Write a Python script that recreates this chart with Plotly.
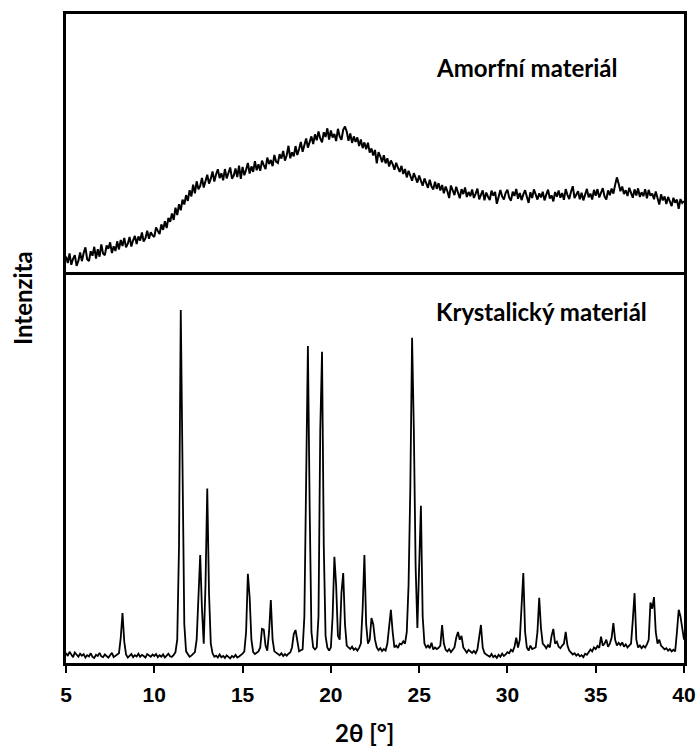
import numpy as np
import plotly.graph_objects as go

# 2-theta scan grid (degrees), step 0.1
two_theta = np.round(np.arange(5.0, 40.0001, 0.1), 1)

# Amorphous material intensity (arbitrary units)
amorphous = [
    7.1, 4.6, 8.3, 3.9, 6.2, 7.6, 3.5, 5.4, 8.6, 5.3,
    8.4, 10.6, 6.0, 5.3, 9.1, 7.4, 10.8, 6.3, 9.9, 7.0,
    11.7, 8.2, 7.6, 11.3, 10.1, 12.5, 8.4, 11.0, 9.2, 12.9,
    9.8, 13.4, 11.1, 14.2, 10.6, 12.0, 14.6, 10.9, 13.3, 15.0,
    11.9, 14.8, 13.2, 16.3, 12.8, 14.1, 17.0, 13.9, 16.4, 15.2,
    14.6, 18.2, 16.9, 15.7, 19.4, 17.3, 20.6, 18.0, 21.9, 20.4,
    23.6, 21.1, 25.8, 23.0, 27.1, 24.8, 28.9, 27.0, 30.6, 28.4,
    32.5, 30.1, 34.6, 31.3, 35.9, 32.8, 34.1, 37.2, 33.5, 36.0,
    38.4, 35.0, 36.9, 39.7, 35.8, 38.6, 40.5, 37.1, 39.0, 36.3,
    40.6, 37.0, 39.4, 41.2, 36.9, 38.1, 40.8, 37.5, 41.9, 36.8,
    41.4, 38.2, 40.3, 42.9, 38.9, 41.6, 39.5, 43.6, 40.1, 42.4,
    39.9, 43.8, 42.1, 40.6, 45.0, 42.5, 44.1, 41.7, 46.0, 43.4,
    42.9, 46.3, 44.6, 47.5, 43.8, 45.9, 49.5, 44.7, 47.0, 45.5,
    49.4, 46.0, 48.3, 51.0, 47.2, 49.9, 52.3, 48.8, 50.6, 53.1,
    50.2, 53.9, 51.6, 55.0, 52.3, 50.8, 54.7, 52.9, 56.2, 51.9,
    55.4, 52.7, 54.0, 51.3, 56.0, 53.1, 51.8, 55.6, 56.9, 54.9,
    51.4, 54.2, 50.6, 53.1, 51.0, 52.7, 49.4, 51.9, 48.6, 50.8,
    48.2, 50.7, 46.9, 48.5, 45.8, 47.9, 42.8, 47.1, 45.5, 43.2,
    45.9, 42.8, 44.7, 41.6, 43.9, 42.5, 40.3, 43.0, 41.1, 39.5,
    41.8, 38.7, 40.6, 37.4, 39.9, 38.3, 36.1, 39.0, 36.9, 35.4,
    38.1, 35.6, 34.2, 37.0, 35.1, 33.4, 36.5, 34.0, 32.8, 35.7,
    33.0, 35.2, 32.4, 34.5, 31.3, 33.9, 32.1, 29.5, 34.3, 32.0,
    30.6, 33.8, 31.5, 29.4, 32.9, 31.0, 33.5, 29.9, 31.8, 30.2,
    32.8, 29.5, 31.2, 33.1, 29.0, 30.7, 32.4, 28.6, 31.6, 30.0,
    28.7, 32.3, 30.4, 31.8, 27.3, 29.9, 32.6, 30.1, 28.9, 31.5,
    32.7, 29.6, 28.5, 31.9, 30.3, 33.0, 29.2, 31.4, 28.7, 30.9,
    32.5, 30.0, 27.6, 31.7, 29.5, 32.8, 30.6, 28.9, 31.3, 29.7,
    31.9, 28.6, 30.8, 32.7, 29.3, 30.5, 28.2, 31.8, 30.0, 32.4,
    29.6, 31.4, 28.8, 32.9, 30.7, 29.1, 31.9, 34.0, 29.5, 30.8,
    32.1, 29.0, 31.5, 28.6, 30.9, 33.0, 29.8, 31.2, 28.9, 32.6,
    30.4, 32.9, 29.7, 31.8, 33.3, 30.1, 28.9, 32.4, 30.6, 33.1,
    31.2, 34.6, 37.4, 35.0, 32.1, 33.9, 31.0, 32.5, 30.3, 33.4,
    31.0, 29.6, 32.8, 30.5, 33.2, 29.9, 31.7, 30.2, 32.9, 29.4,
    32.6, 30.4, 31.2, 29.0, 32.0, 29.8, 27.0, 30.9, 28.6, 30.1,
    27.2, 29.9, 28.1, 26.4, 29.6, 27.7, 28.9, 25.4, 29.1, 27.6,
    28.3,
]

# Crystalline material intensity (arbitrary units)
crystalline = [
    2.6, 1.8, 2.9, 2.2, 1.5, 2.7, 2.0, 1.6, 2.4, 1.9,
    2.3, 1.4, 2.0, 1.7, 2.5, 1.6, 1.3, 2.1, 1.8, 2.6,
    1.7, 1.5, 2.2, 1.9, 1.4, 2.0, 2.6, 1.5, 1.8, 2.2,
    2.5, 6.5, 12.9, 5.5, 2.2, 1.4, 1.9, 2.3, 1.5, 2.0,
    1.7, 2.4, 1.6, 2.1, 1.8, 1.4, 2.3, 1.9, 1.6, 2.2,
    1.8, 2.3, 1.5, 2.0, 1.6, 2.2, 1.4, 1.9, 2.4, 1.7,
    1.6, 2.1, 2.8, 6.0, 30.0, 91.0, 50.0, 10.0, 3.0, 2.2,
    1.6, 1.9, 2.4, 2.8, 6.0, 18.0, 27.8, 14.0, 5.0, 20.0,
    45.0, 18.0, 5.0, 2.5, 1.6, 1.9, 1.4, 2.2, 1.5, 1.8,
    1.3, 2.0, 1.6, 1.2, 1.8, 1.5, 2.1, 1.4, 1.7, 2.0,
    2.4, 3.0, 8.0, 23.0, 17.0, 6.0, 2.8, 2.3, 2.6, 3.0,
    4.0, 8.8, 8.6, 4.5, 3.2, 8.0, 16.2, 6.0, 3.0, 2.6,
    2.2, 2.0, 2.5, 1.8, 2.3, 1.9, 2.4, 2.7, 4.0, 7.5,
    8.5, 5.0, 3.0, 3.3, 3.5, 12.0, 55.0, 81.7, 40.0, 8.0,
    4.0, 3.5, 4.0, 12.0, 60.0, 80.2, 30.0, 7.0, 4.0, 3.2,
    4.0, 12.0, 27.4, 20.0, 7.0, 6.0, 18.0, 23.2, 10.0, 4.5,
    4.0, 3.6, 4.2, 3.4, 3.8, 3.2, 3.9, 5.0, 14.0, 27.8,
    10.0, 5.0, 6.0, 11.6, 10.0, 6.0, 4.0, 3.3, 3.8, 3.1,
    3.6, 3.2, 5.0, 9.0, 13.7, 8.0, 4.0, 4.5, 3.9, 5.0,
    4.8, 5.6, 5.0, 8.0, 20.0, 45.0, 83.8, 60.0, 25.0, 9.0,
    25.0, 40.5, 12.0, 5.0, 4.0, 4.5, 3.8, 5.2, 3.5, 4.0,
    3.6, 3.9, 4.5, 9.8, 5.0, 3.4, 3.0, 3.6, 2.8, 3.3,
    4.0, 6.5, 8.0, 6.0, 7.0, 4.0, 3.2, 2.7, 3.4, 2.9,
    2.6, 3.1, 2.5, 3.5, 7.0, 9.8, 4.0, 2.6, 2.2, 1.9,
    1.6, 2.3, 1.5, 1.9, 1.3, 2.1, 1.6, 2.4, 1.8, 2.2,
    2.8, 2.5, 3.4, 3.0, 4.2, 6.5, 4.0, 6.0, 15.0, 23.2,
    8.0, 4.0, 3.2, 4.5, 3.6, 3.9, 4.0, 8.0, 16.8, 9.0,
    5.0, 4.5, 3.8, 4.6, 4.0, 7.0, 8.8, 5.0, 5.5, 4.2,
    3.8, 4.5, 5.0, 8.0, 4.5, 3.2, 2.8, 2.2, 2.5, 1.9,
    2.3, 1.7, 2.0, 1.5, 2.4, 2.1, 2.8, 3.5, 3.0, 4.0,
    3.6, 4.4, 3.9, 6.8, 4.5, 5.0, 6.0, 4.2, 5.0, 6.5,
    10.3, 6.0, 4.5, 5.2, 4.6, 5.3, 4.2, 4.8, 4.0, 4.5,
    5.0, 11.0, 18.0, 6.0, 4.0, 4.5, 3.8, 4.4, 4.0, 4.8,
    6.0, 15.6, 14.0, 17.0, 8.0, 5.0, 6.0, 4.5, 4.0, 3.5,
    3.8, 3.2, 3.6, 3.0, 3.4, 3.0, 8.0, 13.7, 12.0, 9.0,
    6.0,
]

x_ticks = [5, 10, 15, 20, 25, 30, 35, 40]
labels = {"top": "Amorfní materiál", "bottom": "Krystalický materiál",
          "x": "2θ [°]", "y": "Intenzita"}

assert len(amorphous) == len(two_theta) == len(crystalline)

W, H = 698, 749
ml, mr, mt, mb = 66, 14, 14, 86
PW, PH = W - ml - mr, H - mt - mb
split = 1 - (275 - mt) / PH


def px(xp):
    return (xp - ml) / PW


def py(yp):
    return 1 - (yp - mt) / PH


fig = go.Figure()
fig.add_trace(go.Scatter(x=two_theta, y=crystalline, mode="lines",
                         line=dict(color="black", width=1.8),
                         xaxis="x", yaxis="y", showlegend=False))
fig.add_trace(go.Scatter(x=two_theta, y=amorphous, mode="lines",
                         line=dict(color="black", width=2.0),
                         xaxis="x2", yaxis="y2", showlegend=False))

base = dict(showline=True, linewidth=2.6, linecolor="black",
            showgrid=False, zeroline=False, automargin=False)

fig.update_layout(
    width=W, height=H,
    margin=dict(l=ml, r=mr, t=mt, b=mb, autoexpand=False),
    paper_bgcolor="white", plot_bgcolor="white",
    xaxis=dict(domain=[0, 1], range=[5, 40], anchor="y", tickvals=x_ticks,
               ticks="outside", ticklen=7, tickwidth=1.5, tickcolor="black",
               ticklabelstandoff=4, mirror=True,
               tickfont=dict(family="Liberation Sans", size=21, color="black", weight="bold"),
               **base),
    yaxis=dict(domain=[0, split], range=[0, 100], anchor="x", mirror=True,
               showticklabels=False, ticks="", **base),
    xaxis2=dict(domain=[0, 1], range=[5, 40], anchor="y2", matches="x", side="top",
                mirror=False, showticklabels=False, ticks="", **base),
    yaxis2=dict(domain=[split, 1], range=[0, 100], anchor="x2", mirror=True,
                showticklabels=False, ticks="", **base),
)

ann_font = dict(family="Lato", size=24, color="black", weight="bold")
fig.add_annotation(text=labels["top"], xref="paper", yref="paper",
                   x=px(527), y=py(68), showarrow=False, font=ann_font,
                   xanchor="center", yanchor="middle")
fig.add_annotation(text=labels["bottom"], xref="paper", yref="paper",
                   x=px(541), y=py(311), showarrow=False, font=ann_font,
                   xanchor="center", yanchor="middle")
fig.add_annotation(text=labels["x"], xref="paper", yref="paper",
                   x=px(364), y=py(749), showarrow=False, font=ann_font,
                   xanchor="center", yanchor="bottom")
fig.add_annotation(text=labels["y"], xref="paper", yref="paper",
                   x=px(22), y=py(298), showarrow=False, font=ann_font, textangle=-90,
                   xanchor="center", yanchor="middle")

fig.write_html("out.html")
